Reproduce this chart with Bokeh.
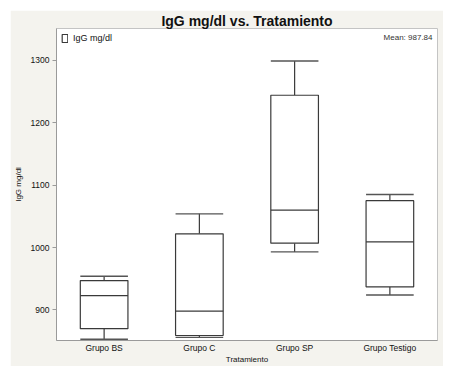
from bokeh.plotting import figure
from bokeh.models import Range1d, FactorRange, ColumnDataSource, Label, Legend, LegendItem
from bokeh.transform import dodge
from bokeh.embed import file_html
from bokeh.resources import INLINE

categories = ["Grupo BS", "Grupo C", "Grupo SP", "Grupo Testigo"]
whisker_low = [853, 856, 993, 924]
q1 = [870, 859, 1007, 937]
median = [923, 898, 1060, 1009]
q3 = [947, 1022, 1244, 1075]
whisker_high = [954, 1054, 1299, 1085]
mean_value = 987.84
y_ticks = [900, 1000, 1100, 1200, 1300]

FONT = "Liberation Sans"
BG = "#f4f3ee"
LINE = "#3a3a3a"

src = ColumnDataSource(dict(cat=categories, lo=whisker_low, q1=q1, med=median,
                            q3=q3, hi=whisker_high))

p = figure(x_range=FactorRange(*categories), y_range=Range1d(851, 1351),
           width=433, height=356, output_backend="svg", toolbar_location=None,
           min_border_left=40, min_border_right=6, min_border_top=17, min_border_bottom=25,
           margin=(10, 0, 0, 10))
p.border_fill_color = BG
p.background_fill_color = "white"
p.outline_line_color = "#c4c4c4"
p.outline_line_width = 1
p.xgrid.visible = False
p.ygrid.visible = False

p.title.text = "IgG mg/dl vs. Tratamiento"
p.title.text_font = FONT
p.title.text_font_size = "14px"
p.title.text_font_style = "bold"
p.title.align = "center"
p.title.text_color = "#111111"
p.title.standoff = 0

left = dodge("cat", -0.25, range=p.x_range)
right = dodge("cat", 0.25, range=p.x_range)

# whiskers
p.segment(x0="cat", x1="cat", y0="q3", y1="hi", source=src, line_color=LINE, line_width=1.2)
p.segment(x0="cat", x1="cat", y0="lo", y1="q1", source=src, line_color=LINE, line_width=1.2)
# caps
p.segment(x0=left, x1=right, y0="hi", y1="hi", source=src, line_color="#555555", line_width=1.4)
p.segment(x0=left, x1=right, y0="lo", y1="lo", source=src, line_color="#555555", line_width=1.4)
# boxes
box = p.vbar(x="cat", width=0.5, bottom="q1", top="q3", source=src, fill_color="white",
             line_color=LINE, line_width=1.2)
# medians
p.segment(x0=left, x1=right, y0="med", y1="med", source=src, line_color=LINE, line_width=1.2)

legend = Legend(items=[LegendItem(label="IgG mg/dl", renderers=[box])], location="top_left",
                background_fill_alpha=0, border_line_alpha=0, label_text_font=FONT,
                label_text_font_size="9px", glyph_width=7, glyph_height=10,
                padding=2, margin=3, label_standoff=5, label_text_color="#111111")
p.add_layout(legend)

p.add_layout(Label(x=4.0, y=1351, x_offset=-5, y_offset=-13, text="Mean: %.2f" % mean_value,
                   text_font=FONT, text_font_size="8px", text_align="right",
                   text_color="#333333"))

p.yaxis.ticker = y_ticks
p.yaxis.ticker.num_minor_ticks = 2
p.yaxis.axis_label = "IgG mg/dl"
p.xaxis.axis_label = "Tratamiento"
for ax in (p.xaxis, p.yaxis):
    ax.axis_label_text_font = FONT
    ax.axis_label_text_font_size = "8px"
    ax.axis_label_text_font_style = "normal"
    ax.axis_label_text_color = "#111111"
    ax.major_label_text_font = FONT
    ax.major_label_text_font_size = "8.5px"
    ax.major_label_text_color = "#111111"
    ax.axis_line_color = "#9a9a9a"
    ax.major_tick_line_color = "#9a9a9a"
    ax.minor_tick_line_color = "#9a9a9a"
    ax.major_tick_in = 0
    ax.minor_tick_in = 0
p.yaxis.major_tick_out = 4
p.yaxis.minor_tick_out = 3
p.yaxis.major_label_standoff = 3
p.yaxis.axis_label_standoff = 5
p.xaxis.major_tick_out = 0
p.xaxis.minor_tick_out = 0
p.xaxis.major_label_standoff = 2
p.xaxis.axis_label_standoff = -1

open("out.html", "w").write(file_html(p, INLINE))
